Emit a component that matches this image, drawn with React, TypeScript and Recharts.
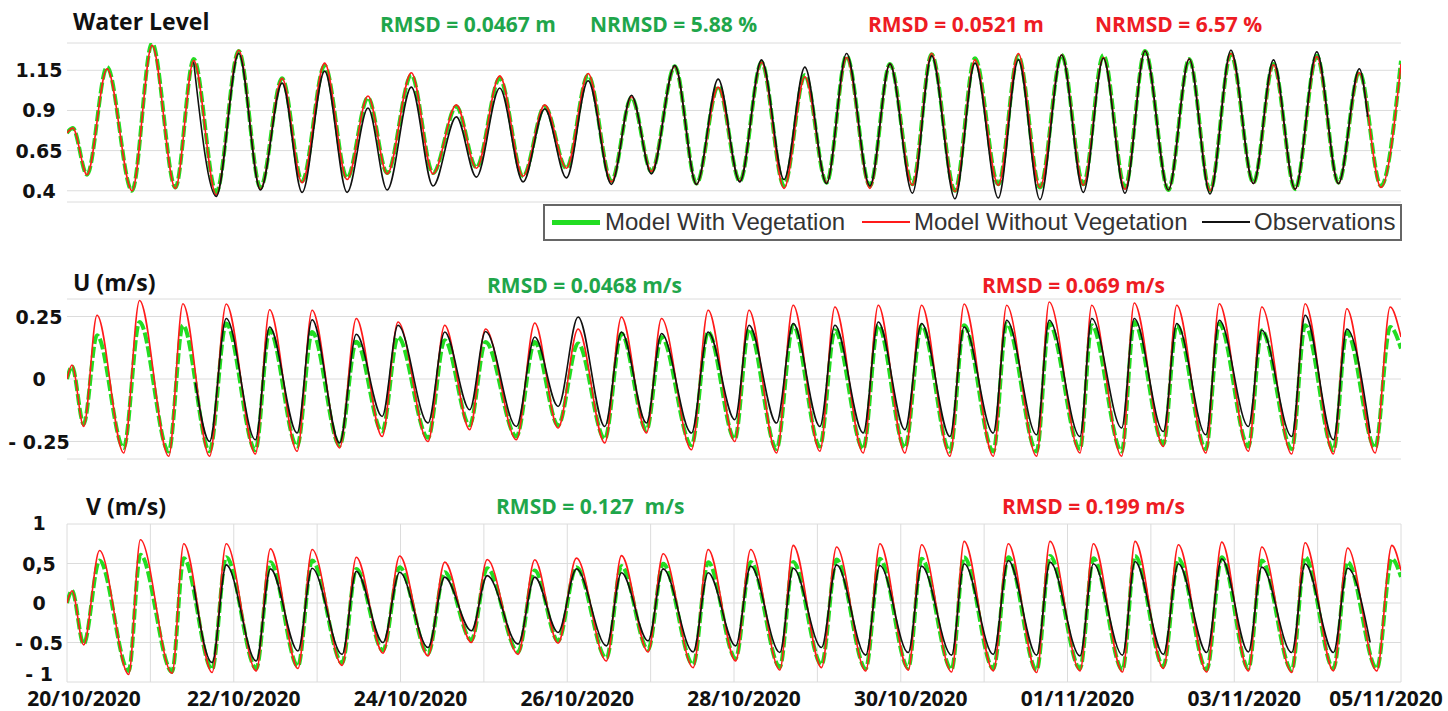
import { LineChart, Line, XAxis, YAxis, CartesianGrid, Legend } from 'recharts';

const W = 1448;
const VEG = '#22dd22';
const NOVEG = '#ff1a1a';
const OBS = '#111111';
const GREEN_TXT = '#1fa64b';
const RED_TXT = '#ee1c24';
const FRAME = '#5c5c5c';

// x axis: days after 20/10/2020 00:00
const dayTicks = [0, 1, 2, 3, 4, 5, 6, 7, 8, 9, 10, 11, 12, 13, 14, 15, 16];
const dateTickDays = [0, 2, 4, 6, 8, 10, 12, 14, 16];
const dateLabels = ['20/10/2020', '22/10/2020', '24/10/2020', '26/10/2020', '28/10/2020', '30/10/2020', '01/11/2020', '03/11/2020', '05/11/2020'];

const legendLabels = ['Model With Vegetation', 'Model Without Vegetation', 'Observations'];

// ---- water level (m), turning points
const wlDays = [0.00, 0.07, 0.24, 0.48, 0.78, 1.02, 1.30, 1.52, 1.79, 2.06,
  2.32, 2.58, 2.82, 3.09, 3.36, 3.61, 3.84, 4.13, 4.39, 4.67,
  4.91, 5.19, 5.47, 5.73, 5.99, 6.25, 6.53, 6.77, 7.01, 7.29,
  7.55, 7.81, 8.07, 8.33, 8.60, 8.85, 9.11, 9.35, 9.63, 9.87,
  10.14, 10.37, 10.65, 10.89, 11.17, 11.41, 11.67, 11.93, 12.19, 12.43,
  12.69, 12.93, 13.21, 13.46, 13.71, 13.96, 14.23, 14.47, 14.73, 14.99,
  15.25, 15.50, 15.60, 15.76, 16.00];
const wlWithVeg = [0.76, 0.79, 0.50, 1.17, 0.40, 1.32, 0.42, 1.22, 0.39, 1.27,
  0.42, 1.10, 0.46, 1.18, 0.48, 0.98, 0.51, 1.12, 0.51, 0.925,
  0.545, 1.10, 0.49, 0.925, 0.54, 1.12, 0.46, 0.98, 0.52, 1.175,
  0.445, 1.05, 0.46, 1.20, 0.43, 1.12, 0.45, 1.24, 0.43, 1.19,
  0.44, 1.25, 0.40, 1.225, 0.44, 1.24, 0.42, 1.245, 0.44, 1.245,
  0.42, 1.27, 0.405, 1.22, 0.40, 1.25, 0.45, 1.19, 0.41, 1.24,
  0.45, 1.14, null, 0.43, 1.21];
const wlWithoutVeg = [0.76, 0.79, 0.50, 1.16, 0.40, 1.305, 0.415, 1.21, 0.375, 1.275,
  0.41, 1.10, 0.45, 1.195, 0.47, 0.99, 0.505, 1.135, 0.505, 0.935,
  0.54, 1.115, 0.49, 0.935, 0.54, 1.13, 0.455, 0.985, 0.52, 1.175,
  0.44, 1.045, 0.46, 1.20, 0.415, 1.11, 0.45, 1.23, 0.415, 1.19,
  0.435, 1.255, 0.395, 1.215, 0.435, 1.255, 0.42, 1.245, 0.435, 1.23,
  0.41, 1.27, 0.405, 1.22, 0.40, 1.255, 0.445, 1.185, 0.41, 1.235,
  0.445, 1.135, null, 0.42, 1.19];
const wlObs = [null, null, null, null, null, null, null, 1.20, 0.365, 1.255,
  0.405, 1.07, 0.39, 1.145, 0.39, 0.915, 0.405, 1.045, 0.43, 0.86,
  0.485, 1.04, 0.455, 0.91, 0.48, 1.085, 0.44, 0.995, 0.505, 1.18,
  0.44, 1.095, 0.455, 1.215, 0.47, 1.17, 0.445, 1.255, 0.43, 1.19,
  0.385, 1.24, 0.35, 1.195, 0.355, 1.215, 0.345, 1.245, 0.39, 1.225,
  0.385, 1.27, 0.405, 1.22, 0.38, 1.275, 0.445, 1.215, 0.41, 1.265,
  0.445, 1.16, 0.86, null, null];
const wlTicks = [0.4, 0.65, 0.9, 1.15];
const wlTickLabels = ['0.4', '0.65', '0.9', '1.15'];

// ---- U (m/s)
const uDays = [0.00, 0.06, 0.20, 0.36, 0.68, 0.87, 1.22, 1.39, 1.54, 1.71,
  1.91, 2.26, 2.43, 2.76, 2.94, 3.27, 3.47, 3.78, 3.97, 4.33,
  4.53, 4.83, 5.02, 5.39, 5.61, 5.89, 6.13, 6.45, 6.65, 6.95,
  7.13, 7.49, 7.69, 8.01, 8.18, 8.51, 8.71, 9.03, 9.21, 9.55,
  9.73, 10.05, 10.25, 10.59, 10.76, 11.11, 11.27, 11.63, 11.78, 12.15,
  12.29, 12.65, 12.80, 13.15, 13.31, 13.66, 13.82, 14.17, 14.33, 14.69,
  14.85, 15.19, 15.35, 15.63, 15.69, 15.87, 16.00];
const uWithVeg = [0, 0.05, -0.18, 0.175, -0.276, 0.228, -0.29, 0.215, null, -0.289,
  0.222, -0.285, 0.195, -0.27, 0.188, -0.265, 0.149, -0.21, 0.168, -0.235,
  0.155, -0.185, 0.148, -0.23, 0.148, -0.185, 0.142, -0.24, 0.182, -0.205,
  0.168, -0.265, 0.188, -0.24, 0.20, -0.28, 0.215, -0.27, 0.195, -0.28,
  0.215, -0.275, 0.215, -0.29, 0.215, -0.29, 0.222, -0.29, 0.222, -0.28,
  0.215, -0.29, 0.228, -0.26, 0.215, -0.28, 0.222, -0.27, 0.195, -0.28,
  0.215, -0.285, 0.188, null, -0.275, 0.208, 0.122];
const uWithoutVeg = [0, 0.056, -0.19, 0.255, -0.296, 0.314, -0.309, 0.301, null, -0.309,
  0.30, -0.30, 0.277, -0.289, 0.275, -0.276, 0.242, -0.23, 0.228, -0.25,
  0.215, -0.203, 0.20, -0.243, 0.224, -0.196, 0.20, -0.256, 0.248, -0.216,
  0.242, -0.283, 0.275, -0.25, 0.275, -0.296, 0.295, -0.289, 0.288, -0.296,
  0.295, -0.296, 0.295, -0.309, 0.30, -0.309, 0.295, -0.309, 0.308, -0.296,
  0.295, -0.309, 0.304, -0.27, 0.295, -0.296, 0.301, -0.289, 0.288, -0.30,
  0.301, -0.30, 0.281, null, -0.296, 0.288, 0.168];
const uObs = [null, null, null, null, null, null, null, null, -0.015, -0.25,
  0.242, -0.243, 0.208, -0.216, 0.237, -0.256, 0.179, -0.15, 0.215, -0.176,
  0.188, -0.123, 0.19, -0.19, 0.168, -0.11, 0.248, -0.19, 0.188, -0.176,
  0.182, -0.216, 0.188, -0.163, 0.215, -0.176, 0.222, -0.19, 0.215, -0.216,
  0.228, -0.203, 0.222, -0.23, 0.208, -0.216, 0.235, -0.223, 0.235, -0.23,
  0.242, -0.196, 0.242, -0.21, 0.222, -0.223, 0.235, -0.19, 0.195, -0.23,
  0.255, -0.243, 0.20, -0.216, null, null, null];
const uTicks = [-0.25, 0, 0.25];
const uTickLabels = ['- 0.25', '0', '0.25'];

// ---- V (m/s)
const vDays = [0.00, 0.06, 0.20, 0.39, 0.74, 0.88, 1.26, 1.40, 1.52, 1.74,
  1.91, 2.27, 2.44, 2.77, 2.94, 3.30, 3.47, 3.79, 3.99, 4.33,
  4.53, 4.85, 5.04, 5.41, 5.61, 5.89, 6.11, 6.47, 6.65, 6.97,
  7.15, 7.51, 7.69, 8.02, 8.20, 8.55, 8.71, 9.05, 9.23, 9.58,
  9.75, 10.09, 10.25, 10.61, 10.76, 11.11, 11.29, 11.63, 11.79, 12.15,
  12.31, 12.66, 12.81, 13.15, 13.33, 13.67, 13.85, 14.17, 14.33, 14.69,
  14.85, 15.19, 15.36, 15.63, 15.71, 15.89, 16.00];
const vWithVeg = [0, 0.156, -0.52, 0.538, -0.86, 0.61, -0.87, 0.568, null, -0.84,
  0.58, -0.83, 0.517, -0.80, 0.538, -0.76, 0.43, -0.60, 0.454, -0.64,
  0.39, -0.47, 0.44, -0.62, 0.41, -0.48, 0.454, -0.70, 0.467, -0.59,
  0.496, -0.78, 0.517, -0.70, 0.52, -0.81, 0.52, -0.78, 0.55, -0.83,
  0.56, -0.82, 0.56, -0.84, 0.58, -0.83, 0.58, -0.85, 0.594, -0.83,
  0.568, -0.845, 0.594, -0.80, 0.56, -0.845, 0.58, -0.83, 0.538, -0.85,
  0.58, -0.83, 0.517, null, -0.83, 0.56, 0.33];
const vWithoutVeg = [0, 0.156, -0.53, 0.665, -0.903, 0.80, -0.89, 0.75, null, -0.88,
  0.75, -0.86, 0.687, -0.83, 0.678, -0.79, 0.58, -0.636, 0.594, -0.67,
  0.517, -0.50, 0.55, -0.65, 0.547, -0.51, 0.568, -0.734, 0.60, -0.62,
  0.623, -0.818, 0.678, -0.734, 0.678, -0.848, 0.729, -0.818, 0.708, -0.86,
  0.75, -0.85, 0.738, -0.874, 0.78, -0.86, 0.75, -0.88, 0.78, -0.86,
  0.75, -0.874, 0.78, -0.83, 0.738, -0.874, 0.77, -0.86, 0.708, -0.88,
  0.763, -0.86, 0.696, null, -0.86, 0.73, 0.41];
const vObs = [null, null, null, null, null, null, null, null, 0.22, -0.754,
  0.483, -0.734, 0.432, -0.607, 0.44, -0.65, 0.40, -0.50, 0.39, -0.564,
  0.327, -0.352, 0.347, -0.52, 0.327, -0.373, 0.432, -0.543, 0.382, -0.48,
  0.432, -0.62, 0.382, -0.543, 0.467, -0.627, 0.44, -0.564, 0.483, -0.66,
  0.475, -0.627, 0.467, -0.66, 0.496, -0.65, 0.538, -0.66, 0.517, -0.67,
  0.496, -0.66, 0.525, -0.65, 0.496, -0.627, 0.56, -0.62, 0.454, -0.627,
  0.496, -0.627, 0.44, -0.50, null, null, null];
const vTicks = [-1, -0.5, 0, 0.5, 1];
const vTickLabels = ['- 1', '- 0.5', '0', '0,5', '1'];

type Val = number | null;
const toRows = (t: number[], a: Val[], b: Val[], c: Val[]) =>
  t.map((d, i) => ({ t: d, veg: a[i], noVeg: b[i], obs: c[i] }));

const wlRows = toRows(wlDays, wlWithVeg, wlWithoutVeg, wlObs);
const uRows = toRows(uDays, uWithVeg, uWithoutVeg, uObs);
const vRows = toRows(vDays, vWithVeg, vWithoutVeg, vObs);

const empty = () => <g />;

const dateTick = (p: any) => {
  const i = p.index;
  const shift = i === 0 ? 17 : i === dateLabels.length - 1 ? -15 : 10;
  return (
    <text x={p.x + shift} y={236} textAnchor="middle" fontFamily="'Open Sans', sans-serif" fontWeight="bold" fontSize={21} fill="#111">
      {dateLabels[i]}
    </text>
  );
};

function LegendBox() {
  const samples = [
    { color: VEG, w: 5, left: 7, textLeft: 60 },
    { color: NOVEG, w: 1.5, left: 317, textLeft: 369 },
    { color: OBS, w: 1.5, left: 657, textLeft: 709 },
  ];
  return (
    <div style={{ position: 'relative', width: 859, height: 37, boxSizing: 'border-box', border: '2px solid #666', background: '#fff', fontFamily: "'Liberation Sans', Arial, sans-serif", fontSize: 24, color: '#333' }}>
      {samples.map((s, i) => (
        <div key={i}>
          <div style={{ position: 'absolute', left: s.left, top: 16 - s.w / 2, width: 48, height: s.w, background: s.color }} />
          <div style={{ position: 'absolute', left: s.textLeft, top: 2, lineHeight: '28px', whiteSpace: 'nowrap' }}>{legendLabels[i]}</div>
        </div>
      ))}
    </div>
  );
}

type PanelProps = {
  top: number;
  height: number;
  marginTop: number;
  marginBottom: number;
  rows: ReturnType<typeof toRows>;
  domain: [number, number];
  ticks: number[];
  labels: string[];
  days?: boolean;
  legend?: boolean;
};

function Panel({ top, height, marginTop, marginBottom, rows, domain, ticks, labels, days = false, legend = false }: PanelProps) {
  const yTick = (p: any) => {
    // labels on the frame edges sit a little inside, as in the original figure
    const v = p.payload ? p.payload.value : null;
    const dy = v === domain[0] ? -1 : v === domain[1] ? 6 : 7;
    return (
      <text x={39} y={p.y} dy={dy} textAnchor="middle" fontFamily="'DejaVu Sans', sans-serif" fontWeight="bold" fontSize={19} fill="#111">
        {labels[p.index]}
      </text>
    );
  };
  const frame = { stroke: FRAME, strokeWidth: 2 };
  const xTickLine = days ? { stroke: '#444' } : false;
  return (
    <div style={{ position: 'absolute', left: 0, top, width: W, height }}>
      <LineChart width={W} height={height} data={rows} margin={{ top: marginTop, right: 47, bottom: marginBottom, left: 7 }}>
        <CartesianGrid xAxisId="b" yAxisId="l" stroke="#dcdcdc" vertical={days} />
        <XAxis xAxisId="b" type="number" dataKey="t" domain={[0, 16]} ticks={dayTicks} interval={0} allowDataOverflow mirror
          axisLine={frame} tickLine={xTickLine} tickSize={7} tick={empty} height={0} />
        <XAxis xAxisId="tp" orientation="top" type="number" dataKey="t" domain={[0, 16]} ticks={dayTicks} interval={0} allowDataOverflow mirror
          axisLine={frame} tickLine={xTickLine} tickSize={7} tick={empty} height={0} />
        {days && (
          <XAxis xAxisId="lab" type="number" dataKey="t" domain={[0, 16]} ticks={dateTickDays} interval={0}
            axisLine={false} tickLine={false} height={29} tick={dateTick} />
        )}
        <YAxis yAxisId="l" type="number" domain={domain} ticks={ticks} interval={0} allowDataOverflow width={60}
          axisLine={false} tickLine={false} tick={yTick} />
        <YAxis yAxisId="lm" type="number" domain={domain} ticks={ticks} interval={0} allowDataOverflow mirror width={0}
          axisLine={frame} tickLine={{ stroke: '#555' }} tickSize={10} tick={empty} />
        <YAxis yAxisId="r" orientation="right" type="number" domain={domain} ticks={ticks} interval={0} allowDataOverflow mirror width={0}
          axisLine={frame} tickLine={{ stroke: '#555' }} tickSize={10} tick={empty} />
        <Line xAxisId="b" yAxisId="l" dataKey="veg" type="monotone" stroke={VEG} strokeWidth={4} strokeDasharray="11 3"
          dot={false} connectNulls isAnimationActive={false} />
        <Line xAxisId="b" yAxisId="l" dataKey="noVeg" type="monotone" stroke={NOVEG} strokeWidth={1.6}
          dot={false} connectNulls isAnimationActive={false} />
        <Line xAxisId="b" yAxisId="l" dataKey="obs" type="monotone" stroke={OBS} strokeWidth={1.6}
          dot={false} isAnimationActive={false} />
        {legend && (
          <Legend verticalAlign="middle" align="center" layout="horizontal"
            wrapperStyle={{ left: 543, top: 204, width: 859, height: 37 }} content={() => <LegendBox />} />
        )}
      </LineChart>
    </div>
  );
}

export default function App() {
  const title = { fontFamily: "'Open Sans', sans-serif", fontWeight: 'bold' as const, fontSize: 23, fill: '#111' };
  const note = { fontFamily: "'Open Sans', sans-serif", fontWeight: 'bold' as const, fontSize: 21, style: { whiteSpace: 'pre' as const } };
  return (
    <div style={{ position: 'absolute', left: 0, top: 0, width: W, height: 711, background: '#fff', overflow: 'hidden' }}>
      <Panel top={0} height={250} marginTop={43} marginBottom={48} rows={wlRows} domain={[0.33, 1.32]} ticks={wlTicks} labels={wlTickLabels} legend />
      <Panel top={250} height={220} marginTop={49} marginBottom={11} rows={uRows} domain={[-0.32, 0.32]} ticks={uTicks} labels={uTickLabels} />
      <Panel top={470} height={241} marginTop={54} marginBottom={0} rows={vRows} domain={[-1, 1]} ticks={vTicks} labels={vTickLabels} days />
      <svg width={W} height={711} style={{ position: 'absolute', left: 0, top: 0, pointerEvents: 'none' }}>
        <text x={73} y={30} {...title}>Water Level</text>
        <text x={380} y={32} {...note} fill={GREEN_TXT}>RMSD = 0.0467 m</text>
        <text x={590} y={32} {...note} fill={GREEN_TXT}>NRMSD = 5.88 %</text>
        <text x={868} y={32} {...note} fill={RED_TXT}>RMSD = 0.0521 m</text>
        <text x={1095} y={32} {...note} fill={RED_TXT}>NRMSD = 6.57 %</text>

        <text x={73} y={291} {...title}>U (m/s)</text>
        <text x={487} y={293} {...note} fill={GREEN_TXT}>RMSD = 0.0468 m/s</text>
        <text x={982} y={293} {...note} fill={RED_TXT}>RMSD = 0.069 m/s</text>

        <text x={86} y={515} {...title}>V (m/s)</text>
        <text x={496} y={514} {...note} fill={GREEN_TXT}>RMSD = 0.127  m/s</text>
        <text x={1002} y={514} {...note} fill={RED_TXT}>RMSD = 0.199 m/s</text>
      </svg>
    </div>
  );
}
